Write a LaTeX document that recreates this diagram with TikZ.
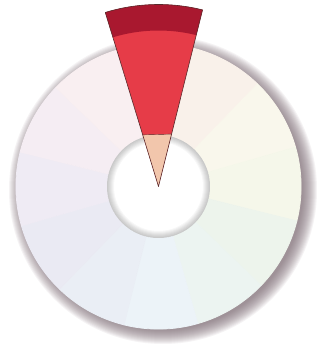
\documentclass[tikz,border=0pt]{standalone}
\definecolor{shadowcol}{HTML}{7A6670}
\definecolor{wred}{HTML}{E63C48}
\definecolor{wdark}{HTML}{A9182F}
\definecolor{wpeach}{HTML}{F2C6AC}
\definecolor{wline}{HTML}{5A2A2C}
\definecolor{s60}{HTML}{F9F1EA}
\definecolor{s30}{HTML}{F9F7EC}
\definecolor{s0}{HTML}{F5F7EA}
\definecolor{sm30}{HTML}{EDF4EC}
\definecolor{sm60}{HTML}{ECF4F1}
\definecolor{sm90}{HTML}{ECF3F8}
\definecolor{sm120}{HTML}{EAEEF5}
\definecolor{sm150}{HTML}{EAEAF3}
\definecolor{s180}{HTML}{EFEBF4}
\definecolor{s150}{HTML}{F5EDF3}
\definecolor{s120}{HTML}{F9EFF1}
\begin{document}
\begin{tikzpicture}[x=1pt,y=1pt,
  seg/.style={fill=#1,draw=#1,line width=0.8pt,line join=round},
  wedgeline/.style={draw=wline,line width=0.6pt,line join=round}]
\useasboundingbox (0,0) rectangle (324,351);
\fill[white] (0,0) rectangle (324,351);
% soft shadow
\begin{scope}[shift={(163,161)}]
  \foreach \r in {154,153,...,140} {
    \fill[shadowcol,opacity=0.075] (0,0) circle (\r);
  }
\end{scope}
\begin{scope}[shift={(158.5,164.5)}]
  % ring segments
  \foreach \a/\col in {46/s60,16/s30,-14/s0,-44/sm30,-74/sm60,-104/sm90,-134/sm120,-164/sm150,-194/s180,-224/s150,-254/s120} {
    \fill[seg=\col] (0,0) -- (\a:142.6) arc[start angle=\a,end angle=\a+30,radius=142.6] -- cycle;
  }
  \fill[seg=s60] (0,0) -- (76:142.6) arc[start angle=76,end angle=106,radius=142.6] -- cycle;
  % hole
  \fill[white] (0,0) circle (51.5);
  \foreach \i in {1,...,7} {
    \fill[black,opacity=0.03,even odd rule] (0,0) circle (51.5) (0,0) circle (51.5-\i*1.0);
  }
  % red wedge
  \fill[wred] (0,0) -- (76:182) arc[start angle=76,end angle=107,radius=182] -- cycle;
  \fill[wdark] (76:156) -- (76:182) arc[start angle=76,end angle=107,radius=182]
     -- (107:156) arc[start angle=107,end angle=76,radius=156] -- cycle;
  \fill[wpeach] (0,0) -- (76:54) -- (107:54) -- cycle;
  \draw[wline,line width=0.4pt] (76:54) -- (107:54);
  \draw[wedgeline] (0,0) -- (76:182) arc[start angle=76,end angle=107,radius=182] -- cycle;
\end{scope}
\end{tikzpicture}
\end{document}
